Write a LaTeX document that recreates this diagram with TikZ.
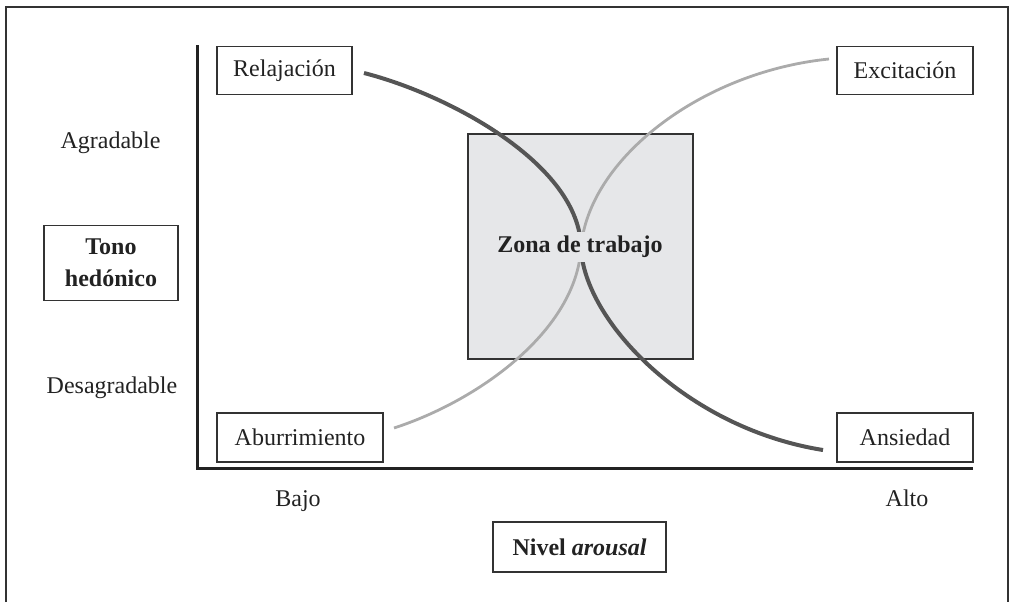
\documentclass[tikz,border=0pt]{standalone}
\usepackage{fontspec}
\setmainfont{Liberation Serif}
\definecolor{ink}{HTML}{222222}
\definecolor{framec}{HTML}{333333}
\definecolor{zonefill}{HTML}{E6E7E9}
\definecolor{darkcurve}{HTML}{555555}
\definecolor{lightcurve}{HTML}{ABABAB}
\begin{document}
\begin{tikzpicture}[x=0.5pt,y=-0.5pt,
  lbl/.style={font=\fontsize{12}{14.5}\selectfont, text=ink},
  tag/.style={lbl, draw=framec, line width=0.6pt, inner sep=0pt, fill=white},
  corner/.style={tag, minimum width=68pt, minimum height=24pt},
  axisline/.style={draw=ink, line width=1.5pt, line join=miter},
  darkline/.style={draw=darkcurve, line width=2pt},
  lightline/.style={draw=lightcurve, line width=1.4pt}
]
\useasboundingbox (0,0) rectangle (1011,602);

% open frame
\draw[framec, line width=0.8pt] (6,602) -- (6,7) -- (1008,7) -- (1008,602);

% axes
\coordinate (ytop) at (197,45);
\coordinate (origin) at (197,468);
\coordinate (xend) at (973,468);
\draw[axisline] (ytop) -- (origin) -- (xend);

% working zone
\node[draw=framec, fill=zonefill, line width=0.6pt, minimum size=112.5pt, inner sep=0pt] (zona) at (580.5,246.5) {};

% quadrant labels
\node[corner, minimum width=67.5pt] (rel) at (284.5,70.5) {Relajación};
\node[corner] (exc) at (905,70.5) {Excitación};
\node[corner, minimum width=83pt, minimum height=24.5pt] (abu) at (300,437.5) {Aburrimiento};
\node[corner, minimum height=24.5pt] (ans) at (905,437.5) {Ansiedad};

% axis titles
\node[tag, minimum width=67pt, minimum height=37.5pt, align=center, font=\fontsize{12}{16}\selectfont\bfseries] (tono) at (111,263) {Tono\\hedónico};
\node[tag, minimum width=86.5pt, minimum height=25pt, font=\fontsize{12}{14.5}\selectfont\bfseries] (nivel) at (579.5,547) {Nivel \textit{arousal}};

% axis end labels
\node[lbl, anchor=base] (agr) at (110.5,148) {Agradable};
\node[lbl, anchor=base] (des) at (112,393) {Desagradable};
\node[lbl, anchor=base] (bajo) at (298,506) {Bajo};
\node[lbl, anchor=base] (alto) at (907,506) {Alto};

% curve end points and crossing
\coordinate (relend) at (364,73);
\coordinate (ansend) at (823,450);
\coordinate (abuend) at (394,428);
\coordinate (excend) at (829,59);
\coordinate (cross) at (581,248);

% Relajacion -> Ansiedad
\draw[darkline] (relend) .. controls (450,95) and (580,165) .. (cross)
  .. controls (584,320) and (685,428) .. (ansend);
% Aburrimiento -> Excitacion
\draw[lightline] (abuend) .. controls (480,400) and (576,330) .. (cross)
  .. controls (588,160) and (700,72) .. (excend);

% zone label masks the crossing
\node[lbl, fill=zonefill, inner xsep=1pt, inner ysep=2.2pt, font=\fontsize{12}{14.5}\selectfont\bfseries] (zlabel) at (580,247) {Zona de trabajo};
\end{tikzpicture}
\end{document}
